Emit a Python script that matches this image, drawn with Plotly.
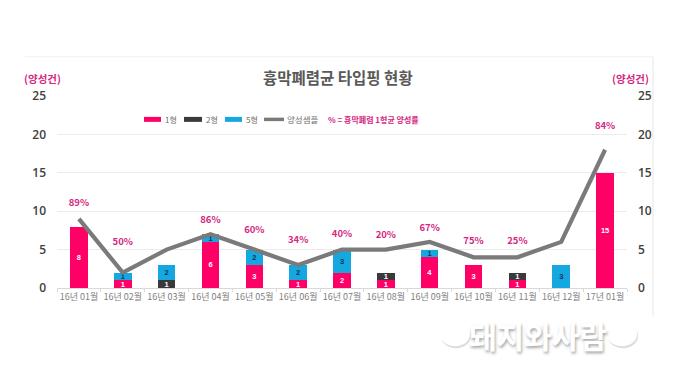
import plotly.graph_objects as go

months = ["16년 01월", "16년 02월", "16년 03월", "16년 04월", "16년 05월", "16년 06월", "16년 07월",
          "16년 08월", "16년 09월", "16년 10월", "16년 11월", "16년 12월", "17년 01월"]
type1 = [8, 1, 0, 6, 3, 1, 2, 1, 4, 3, 1, 0, 15]
type2 = [0, 0, 1, 0, 0, 0, 0, 1, 0, 0, 1, 0, 0]
type5 = [0, 1, 2, 1, 2, 2, 3, 0, 1, 0, 0, 3, 0]
positive = [9, 2, 5, 7, 5, 3, 5, 5, 6, 4, 4, 6, 18]
rate_labels = ["89%", "50%", "", "86%", "60%", "34%", "40%", "20%", "67%", "75%", "25%", "", "84%"]
rate_heights = [11.05, 5.9, None, 8.75, 7.45, 6.15, 6.9, 6.8, 7.7, 6.0, 6.0, None, 21.0]

FONT = "Noto Sans CJK KR"
PINK, DARK, BLUE, GREY = "#FF0066", "#3A3A3A", "#15A8E0", "#7A7A7A"
LABEL_PINK = "#D6287F"

def labels(vals):
    return [str(v) if v else "" for v in vals]

fig = go.Figure()
for name, vals, col, tcol in [("1형", type1, PINK, "#FFFFFF"), ("2형", type2, DARK, "#FFFFFF"), ("5형", type5, BLUE, "#10305A")]:
    fig.add_trace(go.Bar(x=months, y=vals, name=name, marker=dict(color=col, line=dict(width=0)),
                         text=labels(vals), textposition="inside", insidetextanchor="middle", textangle=0,
                         constraintext="none", textfont=dict(family="Liberation Sans", size=7.5, color=tcol, weight="bold"),
                         hoverinfo="skip"))
fig.add_trace(go.Scatter(x=months, y=positive, name="양성샘플", mode="lines", yaxis="y2",
                         line=dict(color=GREY, width=4.2), hoverinfo="skip"))
fig.add_trace(go.Scatter(x=months, y=rate_heights, mode="text", text=rate_labels, yaxis="y2",
                         textposition="middle center", showlegend=False, hoverinfo="skip",
                         textfont=dict(family=FONT, size=9.5, color=LABEL_PINK, weight="bold")))

def px(x): return (x - 57) / 570
def py(y): return (288.5 - y) / 193

shapes = [
    dict(type="line", xref="paper", yref="paper", x0=px(25), x1=px(653), y0=py(56), y1=py(56), line=dict(color="#F2F2F2", width=1)),
    dict(type="line", xref="paper", yref="paper", x0=px(653), x1=px(653), y0=py(56), y1=py(317), line=dict(color="#E6E6E6", width=1)),
]
for x0, x1, col, h in [(144, 161, PINK, 5), (184, 202, DARK, 5), (225, 242, BLUE, 5), (264, 284, GREY, 3.5)]:
    shapes.append(dict(type="rect", xref="paper", yref="paper", x0=px(x0), x1=px(x1),
                       y0=py(119 + h / 2), y1=py(119 - h / 2), fillcolor=col, line=dict(width=0)))
# watermark blobs
for cx, cy, rx, ry in [(455, 335, 15, 12), (622, 335, 15, 12)]:
    shapes.append(dict(type="circle", xref="paper", yref="paper", x0=px(cx - rx + 1), x1=px(cx + rx + 1),
                       y0=py(cy + ry + 2), y1=py(cy - ry + 2), fillcolor="#DDDDDD", line=dict(width=0), layer="above"))
    shapes.append(dict(type="circle", xref="paper", yref="paper", x0=px(cx - rx), x1=px(cx + rx),
                       y0=py(cy + ry), y1=py(cy - ry), fillcolor="#FFFFFF", line=dict(width=0), layer="above"))

def note(x, y, text, size, color, bold=False, anchor="center", shadow=None):
    font = dict(family=FONT, size=size, color=color, weight="bold" if bold else "normal")
    if shadow:
        font["shadow"] = shadow
    return dict(xref="paper", yref="paper", x=px(x), y=py(y), text=text, showarrow=False,
                xanchor=anchor, yanchor="middle", font=font)

annotations = [
    note(338, 76, "흉막폐렴균 타입핑 현황", 15.5, "#595959", True),
    note(42.5, 78, "(양성건)", 10.5, LABEL_PINK, True),
    note(630, 78, "(양성건)", 10.5, LABEL_PINK, True),
    note(163, 119, "1형", 8, "#6F6F6F", anchor="left"),
    note(204, 119, "2형", 8, "#6F6F6F", anchor="left"),
    note(244, 119, "5형", 8, "#6F6F6F", anchor="left"),
    note(285, 119, "양성샘플", 8.5, "#6F6F6F", anchor="left"),
    note(326, 119, "% = 흉막폐렴 1형균 양성률", 8, LABEL_PINK, True, anchor="left"),
    note(538, 336, "돼지와사람", 30, "#FFFFFF", True, shadow="1px 2px 3px #A5A5A5"),
]

tickfont_y = dict(family="Open Sans", size=12, color="#404040", weight=600)
common = dict(range=[0, 25], tickvals=[0, 5, 10, 15, 20, 25], ticks="", showline=False, zeroline=False, automargin=False)
fig.update_layout(
    width=680, height=383, autosize=False, barmode="stack", bargap=0.6, showlegend=False,
    margin=dict(l=57, r=53, t=95.5, b=94.5, autoexpand=False), paper_bgcolor="white", plot_bgcolor="white",
    xaxis=dict(type="category", range=[-0.5, 12.5], ticks="outside", tickson="boundaries", ticklen=3, tickcolor="#D9D9D9",
               showline=True, linecolor="#D9D9D9", showgrid=False, tickangle=0, automargin=False,
               tickfont=dict(family=FONT, size=9, color="#7F7F7F")),
    yaxis=dict(showgrid=True, gridcolor="#ECECEC", gridwidth=1.3, tickfont=tickfont_y, ticklabelstandoff=10, **common),
    yaxis2=dict(overlaying="y", side="right", showgrid=False, tickfont=tickfont_y, ticklabelstandoff=10, **common),
    shapes=shapes, annotations=annotations,
)
fig.write_html("out.html", config=dict(displayModeBar=False),
               post_script="document.body.style.margin='0';document.documentElement.style.overflow='hidden';")
